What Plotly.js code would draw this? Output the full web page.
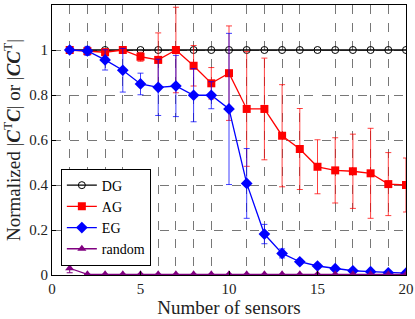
<!DOCTYPE html>
<html><head><meta charset="utf-8">
<script src="https://cdn.plot.ly/plotly-3.0.1.min.js"></script>
<style>html,body{margin:0;padding:0;background:#fff}#c{width:415px;height:319px}</style>
</head><body><div id="c"></div>
<script>
const sensors = [1,2,3,4,5,6,7,8,9,10,11,12,13,14,15,16,17,18,19,20];
const dg = [1,1,1,1,1,1,1,1,1,1,1,1,1,1,1,1,1,1,1,1];
const ag = [1.0,0.995,0.99,1.0,0.97,0.956,1.0,0.93,0.852,0.897,0.738,0.738,0.619,0.56,0.481,0.465,0.461,0.452,0.404,0.40];
const agErr = [0.005,0.01,0.015,0.01,0.02,0.12,0.19,0.09,0.07,0.21,0.255,0.226,0.227,0.18,0.12,0.145,0.165,0.2,0.14,0.12];
const eg = [1.0,0.996,0.956,0.91,0.849,0.834,0.84,0.799,0.799,0.738,0.407,0.182,0.096,0.059,0.04,0.028,0.019,0.015,0.01,0.008];
const egErr = [0.005,0.02,0.045,0.097,0.048,0.125,0.136,0.118,0.06,0.336,0.155,0.043,0.02,0.01,0.008,0.006,0.005,0.004,0.003,0.003];
const rnd = [0.03,0.003,0.003,0.003,0.003,0.003,0.003,0.003,0.003,0.003,0.003,0.003,0.003,0.003,0.003,0.003,0.003,0.003,0.003,0.003];
const rndErr = [0.02,0,0,0,0,0,0,0,0,0,0,0,0,0,0,0,0,0,0,0];

const FONT = "'Liberation Serif', 'Times New Roman', serif";
const traces = [
  {x:sensors,y:dg,name:'DG',mode:'lines+markers',line:{color:'#000',width:1.3},
   marker:{symbol:'circle-open',size:7,color:'#000',line:{width:1}}},
  {x:sensors,y:ag,name:'AG',mode:'lines+markers',line:{color:'#ff0000',width:1.3},
   marker:{symbol:'square',size:8,color:'#ff0000'},
   error_y:{type:'data',array:agErr,visible:true,color:'rgba(255,0,0,0.75)',thickness:1,width:3}},
  {x:sensors,y:eg,name:'EG',mode:'lines+markers',line:{color:'#0000ff',width:1.3},
   marker:{symbol:'diamond',size:9,color:'#0000ff'},
   error_y:{type:'data',array:egErr,visible:true,color:'rgba(0,0,255,0.75)',thickness:1,width:3}},
  {x:sensors,y:rnd,name:'random',mode:'lines+markers',line:{color:'#800080',width:1.3},
   marker:{symbol:'triangle-up',size:8,color:'#800080'},
   error_y:{type:'data',array:rndErr,visible:true,color:'#800080',thickness:1,width:3}}
];

const layout = {
  width:415,height:319,
  margin:{l:52,r:9,t:5,b:44},
  paper_bgcolor:'#fff',plot_bgcolor:'#fff',
  font:{family:FONT,size:15,color:'#222'},
  showlegend:true,
  legend:{x:0.025,y:0.035,xanchor:'left',yanchor:'bottom',bgcolor:'#fff',bordercolor:'#000',borderwidth:1,
    font:{family:FONT,size:14,color:'#000'},tracegroupgap:0,itemwidth:30},
  xaxis:{range:[0,20],dtick:5,tick0:0,ticks:'inside',ticklen:4,tickcolor:'#000',
    showline:true,linecolor:'#000',linewidth:1,mirror:true,zeroline:false,
    showgrid:false,tickfont:{family:FONT,size:15,color:'#222'},
    minor:{dtick:1,tick0:0,showgrid:true,gridcolor:'#555',griddash:'dash',gridwidth:0.8,ticks:''},
    title:{text:'Number of sensors',font:{family:FONT,size:19,color:'#222'},standoff:1}},
  yaxis:{range:[0,1.2],dtick:0.2,tick0:0,ticks:'inside',ticklen:4,tickcolor:'#000',
    showline:true,linecolor:'#000',linewidth:1,mirror:true,zeroline:false,
    showgrid:true,gridcolor:'#555',griddash:'dash',gridwidth:0.8,
    tickformat:'~g',tickfont:{family:FONT,size:15,color:'#222'},
    title:{text:'Normalized |<b><i>C</i></b><sup>T</sup><b><i>C</i></b>| or |<b><i>CC</i></b><sup>T</sup>|',font:{family:FONT,size:19,color:'#222'},standoff:3}}
};
Plotly.newPlot('c',traces,layout,{displayModeBar:false,staticPlot:true});
</script></body></html>
